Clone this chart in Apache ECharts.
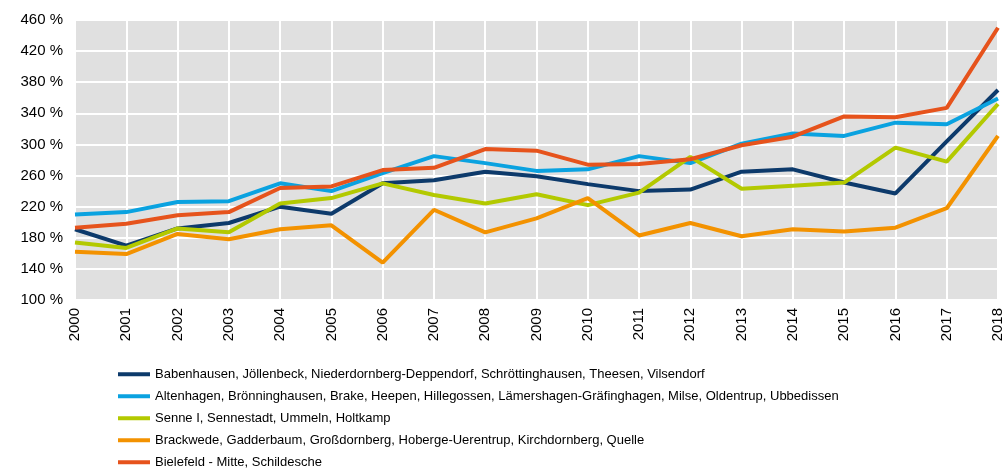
<!DOCTYPE html>
<html lang="de">
<head>
    <meta charset="UTF-8">
    <title>Liniendiagramm</title>
    <script src="https://cdn.jsdelivr.net/npm/echarts@6/dist/echarts.min.js"></script>
</head>
<body style="margin:0;width:1007px;height:469px;background:#fff">
    <div id="container" style="width:1007px;height:469px"></div>
</body>
<script>
    var years = ['2000','2001','2002','2003','2004','2005','2006','2007','2008','2009',
                 '2010','2011','2012','2013','2014','2015','2016','2017','2018'];
    var names = [
        'Babenhausen, Jöllenbeck, Niederdornberg-Deppendorf, Schröttinghausen, Theesen, Vilsendorf',
        'Altenhagen, Brönninghausen, Brake, Heepen, Hillegossen, Lämershagen-Gräfinghagen, Milse, Oldentrup, Ubbedissen',
        'Senne I, Sennestadt, Ummeln, Holtkamp',
        'Brackwede, Gadderbaum, Großdornberg, Hoberge-Uerentrup, Kirchdornberg, Quelle',
        'Bielefeld - Mitte, Schildesche'
    ];
    var babenhausen = [191, 170, 192, 199, 220, 211, 250, 254, 265, 259, 249, 240, 242, 265, 268, 251, 237, 304, 370];
    var altenhagen  = [210, 213, 226, 227, 250, 240, 263, 285, 276, 266, 268, 285, 276, 301, 314, 311, 328, 326, 359];
    var senne       = [174, 167, 192, 187, 224, 231, 250, 235, 224, 236, 222, 238, 284, 243, 247, 251, 296, 278, 352];
    var brackwede   = [162, 159, 185, 178, 191, 196, 148, 216, 187, 205, 231, 183, 199, 182, 191, 188, 193, 218, 311];
    var bielefeld   = [193, 198, 209, 213, 244, 246, 267, 270, 294, 292, 274, 275, 281, 299, 310, 336, 335, 347, 450];
    var colors = ['#0d3a6b', '#0aa2e0', '#b3c900', '#f39200', '#e6531c'];

    var dom = document.getElementById('container');
    var myChart = echarts.init(dom);

    function line(name, data, color) {
        return {
            name: name,
            type: 'line',
            data: data,
            symbol: 'none',
            color: color,
            lineStyle: {width: 4, color: color},
            animation: false
        };
    }

    var option = {
        textStyle: {fontFamily: 'Liberation Sans, Arial, sans-serif'},
        grid: {
            left: 75, right: 9, top: 20, bottom: 169,
            show: true, backgroundColor: '#e0e0e0', borderWidth: 0
        },
        legend: {
            orient: 'vertical',
            left: 113,
            top: 361,
            height: 110,
            icon: 'rect',
            itemWidth: 32,
            itemHeight: 4,
            itemGap: 5.5,
            textStyle: {fontSize: 13, color: '#000', lineHeight: 16.5},
            data: names
        },
        xAxis: {
            type: 'category',
            data: years,
            boundaryGap: false,
            axisLine: {show: false},
            axisTick: {show: false},
            axisLabel: {rotate: 90, fontSize: 15, color: '#000', margin: 8},
            splitLine: {show: true, lineStyle: {color: '#fff', width: 2}}
        },
        yAxis: {
            type: 'value',
            min: 100, max: 460, interval: 40,
            axisLine: {show: false},
            axisTick: {show: false},
            axisLabel: {formatter: '{value} %', fontSize: 15, color: '#000', margin: 12},
            splitLine: {show: true, lineStyle: {color: '#fff', width: 2}}
        },
        series: [
            line(names[0], babenhausen, colors[0]),
            line(names[1], altenhagen, colors[1]),
            line(names[2], senne, colors[2]),
            line(names[3], brackwede, colors[3]),
            line(names[4], bielefeld, colors[4])
        ]
    };
    myChart.setOption(option, true);
</script>
</html>
